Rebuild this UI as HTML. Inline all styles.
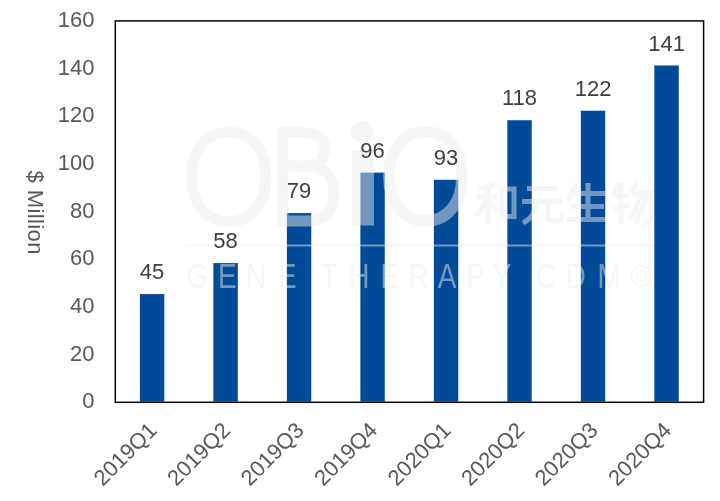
<!DOCTYPE html>
<html><head><meta charset="utf-8"><style>
html,body{margin:0;padding:0;background:#fff;}
svg{display:block;font-family:"Liberation Sans",sans-serif;will-change:transform;}
</style></head><body>
<svg width="720" height="501" viewBox="0 0 720 501">
<rect width="720" height="501" fill="#fff"/>
<rect x="139.90" y="294.06" width="24.4" height="107.55" fill="#004a98"/>
<rect x="213.39" y="263.10" width="24.4" height="138.50" fill="#004a98"/>
<rect x="286.88" y="213.10" width="24.4" height="188.50" fill="#004a98"/>
<rect x="360.37" y="172.62" width="24.4" height="228.98" fill="#004a98"/>
<rect x="433.86" y="179.77" width="24.4" height="221.83" fill="#004a98"/>
<rect x="507.35" y="120.24" width="24.4" height="281.36" fill="#004a98"/>
<rect x="580.84" y="110.72" width="24.4" height="290.88" fill="#004a98"/>
<rect x="654.33" y="65.48" width="24.4" height="336.12" fill="#004a98"/>
<g opacity="0.48" fill="none" stroke="#eeeeee">
<path d="M228.7,132.10000000000002 C251.08,132.10000000000002 266.0,149.98 266.0,176.8 C266.0,203.62 251.08,221.5 228.7,221.5 C206.32,221.5 191.39999999999998,203.62 191.39999999999998,176.8 C191.39999999999998,149.98 206.32,132.10000000000002 228.7,132.10000000000002 Z" stroke-width="11"/>
<path d="M425.4,131.8 C447.30,131.8 461.9,149.64 461.9,176.4 C461.9,203.16 447.30,221.0 425.4,221.0 C403.50,221.0 388.9,203.16 388.9,176.4 C388.9,149.64 403.50,131.8 425.4,131.8 Z" stroke-width="11.5"/>
<path d="M283,127 V226.5" stroke-width="11"/>
<path d="M283,132.5 H303 C318,132.5 325,140 325,149.5 C325,159 318,166 303,166 H283 M283,166 H308 C326,166 334,178 334,193.5 C334,209 326,221 308,221 H283" stroke-width="11"/>
<path d="M363,150 V225.5" stroke-width="22"/>
<circle cx="361.8" cy="131.7" r="11" fill="#eeeeee" stroke="none"/>
<path d="M185.6,245.5 H653.5" stroke-width="2"/>
<circle cx="641.4" cy="275.8" r="10" stroke-width="1.3"/>
<circle cx="641.4" cy="275.8" r="5.5" stroke-width="1"/>
<g stroke-width="5" stroke-linecap="butt" stroke-linejoin="miter">
<path d="M495,184 L479,189 M477,197 H498 M488,186 V224 M487,199 L477,216 M489,201 L497,211"/>
<path d="M502,189 H514 V216.5 H502 Z"/>
<path d="M527,188.5 H557 M522,201.5 H562 M536,201.5 C536,212 531,219 523,223 M548,201.5 V217 C548,220 549,221 552,221 H558 C561,221 562,219 562,213"/>
<path d="M576,183 L568,201 M572,193.5 H605 M588,183 V220 M571,206.5 H604 M566,219.5 H608"/>
<path d="M618,184 L613,196 M613,195.5 H628 M621,183 V224 M612,210 L629,205 M637,183 L631,194 M634,193.5 H651 V219 C651,222 649,223 644,223 M641,196 L631,219 M647,196 L636,223"/>
</g>
</g>
<g opacity="0.48" fill="#eeeeee" font-size="35">
<text transform="translate(197.1,287.8) scale(0.8,1)" text-anchor="middle">G</text>
<text transform="translate(227.3,287.8) scale(0.8,1)" text-anchor="middle">E</text>
<text transform="translate(256,287.8) scale(0.8,1)" text-anchor="middle">N</text>
<text transform="translate(287.3,287.8) scale(0.8,1)" text-anchor="middle">E</text>
<text transform="translate(329.5,287.8) scale(0.8,1)" text-anchor="middle">T</text>
<text transform="translate(359.3,287.8) scale(0.8,1)" text-anchor="middle">H</text>
<text transform="translate(389.9,287.8) scale(0.8,1)" text-anchor="middle">E</text>
<text transform="translate(418.5,287.8) scale(0.8,1)" text-anchor="middle">R</text>
<text transform="translate(447,287.8) scale(0.8,1)" text-anchor="middle">A</text>
<text transform="translate(475.5,287.8) scale(0.8,1)" text-anchor="middle">P</text>
<text transform="translate(502,287.8) scale(0.8,1)" text-anchor="middle">Y</text>
<text transform="translate(546,287.8) scale(0.8,1)" text-anchor="middle">C</text>
<text transform="translate(575.7,287.8) scale(0.8,1)" text-anchor="middle">D</text>
<text transform="translate(609.2,287.8) scale(0.8,1)" text-anchor="middle">M</text>
</g>
<rect x="115.3" y="20.9" width="588.3" height="381.4" fill="none" stroke="#000" stroke-width="1.5"/>
<text x="94.5" y="408.3" text-anchor="end" fill="#595959" font-size="22">0</text>
<text x="94.5" y="360.6" text-anchor="end" fill="#595959" font-size="22">20</text>
<text x="94.5" y="313.0" text-anchor="end" fill="#595959" font-size="22">40</text>
<text x="94.5" y="265.3" text-anchor="end" fill="#595959" font-size="22">60</text>
<text x="94.5" y="217.7" text-anchor="end" fill="#595959" font-size="22">80</text>
<text x="94.5" y="170.0" text-anchor="end" fill="#595959" font-size="22">100</text>
<text x="94.5" y="122.3" text-anchor="end" fill="#595959" font-size="22">120</text>
<text x="94.5" y="74.7" text-anchor="end" fill="#595959" font-size="22">140</text>
<text x="94.5" y="27.0" text-anchor="end" fill="#595959" font-size="22">160</text>
<text x="152.10" y="279.1" text-anchor="middle" fill="#404040" font-size="22">45</text>
<text x="225.59" y="248.1" text-anchor="middle" fill="#404040" font-size="22">58</text>
<text x="299.08" y="198.1" text-anchor="middle" fill="#404040" font-size="22">79</text>
<text x="372.57" y="157.6" text-anchor="middle" fill="#404040" font-size="22">96</text>
<text x="446.06" y="164.8" text-anchor="middle" fill="#404040" font-size="22">93</text>
<text x="519.55" y="105.2" text-anchor="middle" fill="#404040" font-size="22">118</text>
<text x="593.04" y="95.7" text-anchor="middle" fill="#404040" font-size="22">122</text>
<text x="666.53" y="50.5" text-anchor="middle" fill="#404040" font-size="22">141</text>
<text transform="translate(152.60,426) rotate(-45)" x="0" y="7.8" text-anchor="end" fill="#595959" font-size="22">2019Q1</text>
<text transform="translate(226.09,426) rotate(-45)" x="0" y="7.8" text-anchor="end" fill="#595959" font-size="22">2019Q2</text>
<text transform="translate(299.58,426) rotate(-45)" x="0" y="7.8" text-anchor="end" fill="#595959" font-size="22">2019Q3</text>
<text transform="translate(373.07,426) rotate(-45)" x="0" y="7.8" text-anchor="end" fill="#595959" font-size="22">2019Q4</text>
<text transform="translate(446.56,426) rotate(-45)" x="0" y="7.8" text-anchor="end" fill="#595959" font-size="22">2020Q1</text>
<text transform="translate(520.05,426) rotate(-45)" x="0" y="7.8" text-anchor="end" fill="#595959" font-size="22">2020Q2</text>
<text transform="translate(593.54,426) rotate(-45)" x="0" y="7.8" text-anchor="end" fill="#595959" font-size="22">2020Q3</text>
<text transform="translate(667.03,426) rotate(-45)" x="0" y="7.8" text-anchor="end" fill="#595959" font-size="22">2020Q4</text>
<text transform="translate(28,212.5) rotate(90)" x="0" y="0" text-anchor="middle" fill="#595959" font-size="22" textLength="84" lengthAdjust="spacing">$ Million</text>
</svg>
</body></html>
